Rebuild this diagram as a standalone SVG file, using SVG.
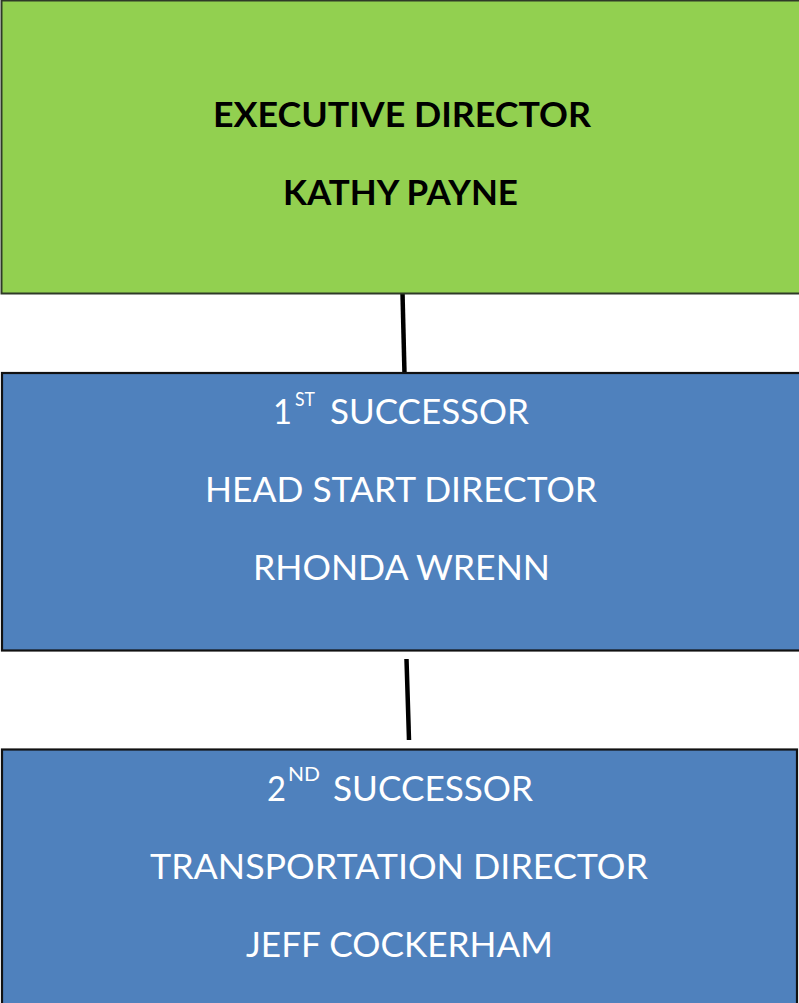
<svg xmlns="http://www.w3.org/2000/svg" width="799" height="1003" viewBox="0 0 799 1003">
<style>
.green{fill:#92D050;stroke:#2f3a28;stroke-width:2}
.blue{fill:#4F81BD;stroke:#111;stroke-width:2.2}
.t{font-family:Lato,"Open Sans",sans-serif;font-size:34px}
.b{font-weight:bold;fill:#000}
.w{fill:#fff}
.sup{font-family:Lato,"Open Sans",sans-serif;font-size:19px;fill:#fff}
.conn{stroke:#000;stroke-width:4.5;fill:none}
</style>
<rect width="799" height="1003" fill="#fff"/>
<g id="connectors">
<line class="conn" x1="402.5" y1="293" x2="404.5" y2="374"/>
<line class="conn" x1="406.5" y1="659" x2="409" y2="740"/>
</g>
<g id="executive-director">
<rect class="green" x="1.5" y="0.5" width="810" height="293"/>
<text class="t b" x="213" y="127" textLength="378" lengthAdjust="spacingAndGlyphs">EXECUTIVE DIRECTOR</text>
<text class="t b" x="283" y="205" textLength="235" lengthAdjust="spacingAndGlyphs">KATHY PAYNE</text>
</g>
<g id="successor-1">
<rect class="blue" x="2" y="373" width="810" height="277.5"/>
<text class="t w" x="273" y="424" textLength="19" lengthAdjust="spacingAndGlyphs">1</text>
<text class="sup" x="295" y="406" textLength="20" lengthAdjust="spacingAndGlyphs">ST</text>
<text class="t w" x="330" y="424" textLength="199" lengthAdjust="spacingAndGlyphs">SUCCESSOR</text>
<text class="t w" x="205" y="502" textLength="392" lengthAdjust="spacingAndGlyphs">HEAD START DIRECTOR</text>
<text class="t w" x="253" y="580" textLength="297" lengthAdjust="spacingAndGlyphs">RHONDA WRENN</text>
</g>
<g id="successor-2">
<rect class="blue" x="2" y="749.5" width="795" height="280"/>
<text class="t w" x="267" y="801" textLength="19" lengthAdjust="spacingAndGlyphs">2</text>
<text class="sup" x="288" y="781" textLength="32" lengthAdjust="spacingAndGlyphs">ND</text>
<text class="t w" x="333" y="801" textLength="200" lengthAdjust="spacingAndGlyphs">SUCCESSOR</text>
<text class="t w" x="150" y="879" textLength="498" lengthAdjust="spacingAndGlyphs">TRANSPORTATION DIRECTOR</text>
<text class="t w" x="246" y="957" textLength="307" lengthAdjust="spacingAndGlyphs">JEFF COCKERHAM</text>
</g>
</svg>
